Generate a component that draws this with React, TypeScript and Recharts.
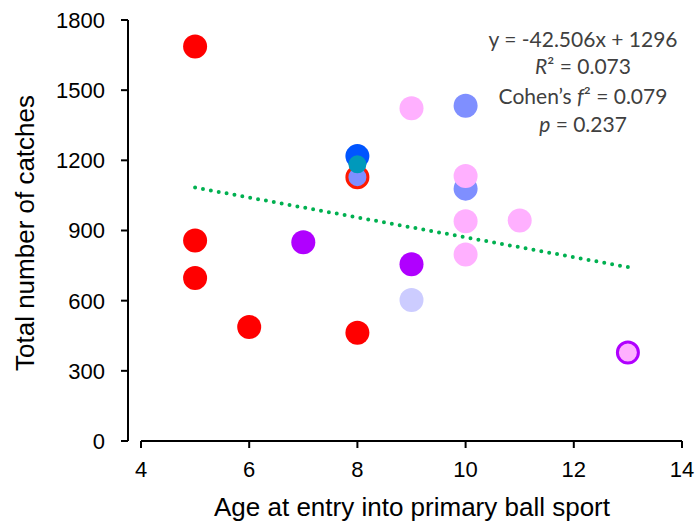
import React from 'react';
import { ScatterChart, Scatter, XAxis, YAxis, ReferenceLine, Customized } from 'recharts';

const xTicks = [4, 6, 8, 10, 12, 14];
const yTicks = [0, 300, 600, 900, 1200, 1500, 1800];

const redX = [5, 5, 5, 6, 8];
const redY = [1687, 857, 697, 487, 463];
const purpleX = [7, 9];
const purpleY = [850, 756];
const periwinkleX = [10, 10];
const periwinkleY = [1433, 1079];
const blueX = [8];
const blueY = [1218];
const redRingX = [8];
const redRingY = [1128];
const pinkX = [9, 10, 10, 10, 11];
const pinkY = [1423, 1133, 940, 797, 943];
const lavenderX = [9];
const lavenderY = [603];
const purpleRingX = [13];
const purpleRingY = [378];
const tealX = [8];
const tealY = [1183];
const trendX = [5, 13];
const trendY = [1083.5, 743.4];

const statLines = ['y = -42.506x + 1296', 'R² = 0.073', 'Cohen’s f² = 0.079', 'p = 0.237'];
const xTitle = 'Age at entry into primary ball sport';
const yTitle = 'Total number of catches';

const zip = (xs: number[], ys: number[]) => xs.map((x, i) => ({ x, y: ys[i] }));

const ARIAL = '"Liberation Sans", Arial, sans-serif';
const CAL = 'Lato, "Open Sans", sans-serif';
const TICK_FS = 22;

const dot = (fill: string, r = 12) => (p: any) => (
  <circle cx={p.cx} cy={p.cy} r={r} fill={fill} />
);
const ring = (fill: string, stroke: string) => (p: any) => (
  <circle cx={p.cx} cy={p.cy} r={10.5} fill={fill} stroke={stroke} strokeWidth={3} />
);

const XTick = (p: any) => (
  <text
    x={p.x}
    y={p.y}
    dy="0.72em"
    textAnchor="middle"
    fontFamily={ARIAL}
    fontSize={TICK_FS}
    fill="#000"
  >
    {p.payload.value}
  </text>
);

const YTick = (p: any) => (
  <text
    x={p.x}
    y={p.y}
    dy="0.36em"
    textAnchor="end"
    fontFamily={ARIAL}
    fontSize={TICK_FS}
    fill="#000"
  >
    {p.payload.value}
  </text>
);

const Annotations = () => (
  <g>
    <g fontFamily={CAL} fontSize={21} fill="#404040" textAnchor="middle">
      <text x={583} y={47}>{statLines[0]}</text>
      <text x={583} y={74}>
        <tspan fontStyle="italic">R</tspan>
        <tspan>{statLines[1].slice(1)}</tspan>
      </text>
      <text x={583} y={104}>
        <tspan>{statLines[2].slice(0, 8)}</tspan>
        <tspan fontStyle="italic">f</tspan>
        <tspan>{statLines[2].slice(9)}</tspan>
      </text>
      <text x={583} y={132}>
        <tspan fontStyle="italic">p</tspan>
        <tspan>{statLines[3].slice(1)}</tspan>
      </text>
    </g>
    <text x={412} y={516} fontFamily={ARIAL} fontSize={26} fill="#000" textAnchor="middle">
      {xTitle}
    </text>
    <text
      x={0}
      y={0}
      transform="translate(34,233) rotate(-90)"
      fontFamily={ARIAL}
      fontSize={26}
      fill="#000"
      textAnchor="middle"
    >
      {yTitle}
    </text>
  </g>
);

export default function App() {
  return (
    <div style={{ position: 'absolute', left: 0, top: 0 }}>
      <ScatterChart
        width={699}
        height={522}
        margin={{ top: 20, right: 17, bottom: 21, left: 28 }}
      >
        <XAxis
          type="number"
          dataKey="x"
          domain={[4, 14]}
          ticks={xTicks}
          padding={{ left: 13, right: 0 }}
          axisLine={false}
          tickSize={7}
          tickMargin={13}
          tickLine={{ stroke: '#000', strokeWidth: 2 }}
          tick={<XTick />}
          height={60}
          allowDataOverflow
        />
        <YAxis
          type="number"
          dataKey="y"
          domain={[0, 1800]}
          ticks={yTicks}
          axisLine={{ stroke: '#000', strokeWidth: 2 }}
          tickSize={7}
          tickMargin={16}
          tickLine={{ stroke: '#000', strokeWidth: 2 }}
          tick={<YTick />}
          width={100}
          allowDataOverflow
        />
        <ReferenceLine
          segment={[{ x: 4, y: 0 }, { x: 14, y: 0 }]}
          stroke="#000"
          strokeWidth={2}
        />
        <Scatter
          data={zip(trendX, trendY)}
          line={{ stroke: '#00B050', strokeWidth: 4, strokeDasharray: '0 8', strokeLinecap: 'round' }}
          shape={() => <g />}
          isAnimationActive={false}
        />
        <Scatter data={zip(redX, redY)} shape={dot('#FF0000')} isAnimationActive={false} />
        <Scatter data={zip(purpleX, purpleY)} shape={dot('#B000FF')} isAnimationActive={false} />
        <Scatter data={zip(periwinkleX, periwinkleY)} shape={dot('#7F8FFF')} isAnimationActive={false} />
        <Scatter data={zip(blueX, blueY)} shape={dot('#0055FF')} isAnimationActive={false} />
        <Scatter data={zip(redRingX, redRingY)} shape={ring('#7F8FFF', '#FF1A00')} isAnimationActive={false} />
        <Scatter data={zip(pinkX, pinkY)} shape={dot('#FFB0FF')} isAnimationActive={false} />
        <Scatter data={zip(lavenderX, lavenderY)} shape={dot('#CCCCFF')} isAnimationActive={false} />
        <Scatter data={zip(purpleRingX, purpleRingY)} shape={ring('#FFB0FF', '#B000FF')} isAnimationActive={false} />
        <Scatter data={zip(tealX, tealY)} shape={dot('#0099BB', 9)} isAnimationActive={false} />
        <Customized component={Annotations} />
      </ScatterChart>
    </div>
  );
}
